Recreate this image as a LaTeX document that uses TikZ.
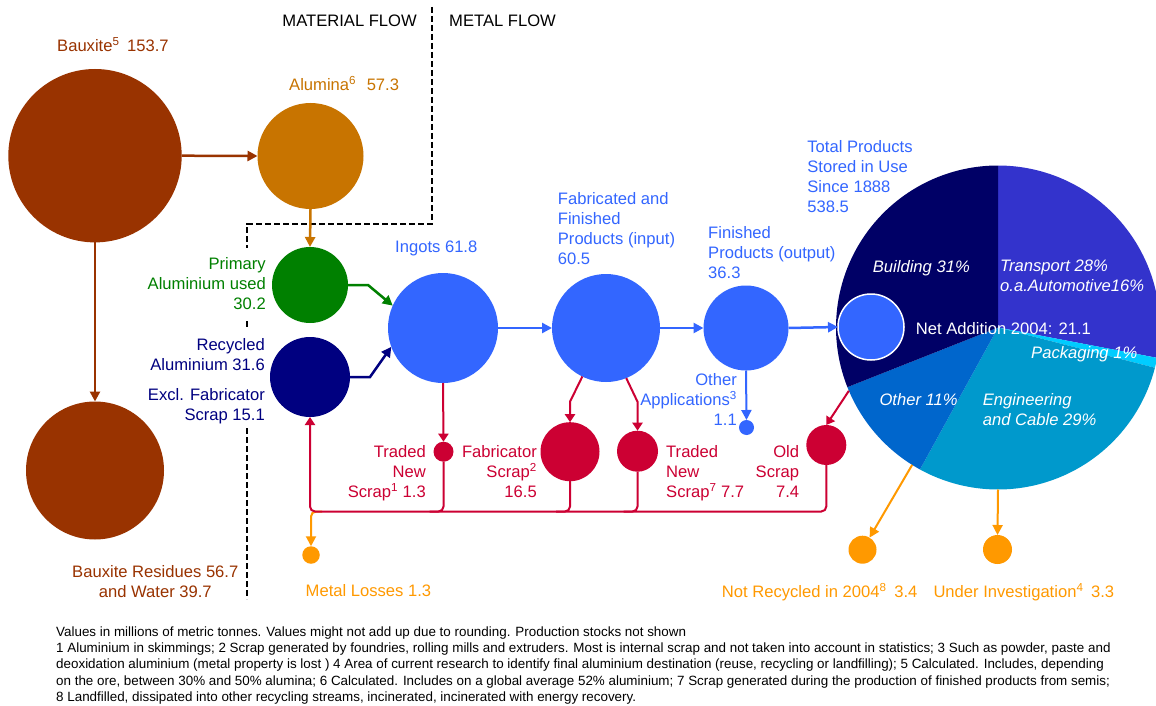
\documentclass[tikz,border=0pt]{standalone}
\usepackage{fontspec}
\setmainfont{Liberation Sans}
\usetikzlibrary{arrows.meta}

\definecolor{bauxite}{HTML}{993300}
\definecolor{alumina}{HTML}{C87400}
\definecolor{primgreen}{HTML}{008000}
\definecolor{recnavy}{HTML}{000080}
\definecolor{metalblue}{HTML}{3366FF}
\definecolor{scrapred}{HTML}{CC0033}
\definecolor{lossorange}{HTML}{FF9900}
\definecolor{building}{HTML}{000066}
\definecolor{transport}{HTML}{3333CC}
\definecolor{packaging}{HTML}{00CCFF}
\definecolor{engineering}{HTML}{0099CC}
\definecolor{otheruse}{HTML}{0066CC}

\begin{document}
\begin{tikzpicture}[x=1pt,y=-1pt,
  txt/.style={inner sep=0pt, font=\fontsize{16.6}{20}\selectfont},
  pietxt/.style={txt, text=white, font=\fontsize{16.6}{20}\selectfont\itshape, align=left, anchor=north west},
  blob/.style={circle, inner sep=0pt, outer sep=0pt, draw=none},
  flowarrow/.style={line width=2.5pt, -{Triangle[length=10pt,width=10pt]}},
  scrapline/.style={line width=2pt, draw=scrapred},
  scraparrow/.style={scrapline, -{Triangle[length=8pt,width=10pt]}},
  lossarrow/.style={line width=2pt, draw=lossorange, -{Triangle[length=10pt,width=10pt]}},
  divider/.style={line width=1.8pt, dash pattern=on 6pt off 3pt}
]
% page
\clip (0,0) rectangle (1156,706);
\fill[white] (0,0) rectangle (1156,706);

% material / metal divider, broken where the side labels stand
\coordinate (divtop) at (431.7,7);
\coordinate (divknee) at (431.7,224);
\coordinate (divcorner) at (247,224);
\draw[divider] (divtop) -- (divknee) -- (divcorner) -- (247,248);
\draw[divider] (247,321) -- (247,329);
\draw[divider] (247,428) -- (247,599);
\node[txt, anchor=north east] (matflow) at (417,14.7) {MATERIAL FLOW};
\node[txt, anchor=north west] (metflow) at (449,14.7) {METAL FLOW};

% material side
\node[blob, fill=bauxite, minimum size=173.4pt] (baux) at (95,155.7) {};
\node[blob, fill=alumina, minimum size=106pt] (alu) at (310.5,156) {};
\node[blob, fill=bauxite, minimum size=138pt] (res) at (95,470.5) {};
\node[txt, text=bauxite, anchor=north west] (bauxlbl) at (57,37) {Bauxite\textsuperscript{5}\hspace{3pt} 153.7};
\node[txt, text=alumina, anchor=north west] (alulbl) at (289,75.7) {Alumina\textsuperscript{6}\hspace{6pt} 57.3};
\node[txt, text=bauxite, anchor=north, align=center] (reslbl) at (155.3,565.7) {Bauxite Residues 56.7\\and Water 39.7};

\draw[flowarrow, draw=bauxite] (baux.east) -- (alu.west);
\draw[flowarrow, draw=bauxite] (baux.south) -- (res.north);

% metal side
\node[blob, fill=primgreen, minimum size=76pt] (prim) at (310,285) {};
\node[blob, fill=recnavy, minimum size=80pt] (rec) at (310,377) {};
\node[blob, fill=metalblue, minimum size=110pt] (ingots) at (443,328) {};
\node[blob, fill=metalblue, minimum size=108pt] (fab) at (606,328) {};
\node[blob, fill=metalblue, minimum size=85pt] (fin) at (746,328) {};
\node[blob, fill=metalblue, minimum size=15pt] (oapp) at (746.5,427.5) {};

\node[txt, text=primgreen, anchor=north east, align=right] (primlbl) at (266,257) {Primary\\Aluminium used\\30.2};
\node[txt, text=recnavy, anchor=north east, align=right] (reclbl) at (265,338) {Recycled\\Aluminium 31.6};
\node[txt, text=recnavy, anchor=north east, align=right] (excllbl) at (265,388) {Excl. Fabricator\\Scrap 15.1};
\node[txt, text=metalblue, anchor=north west] (ingotslbl) at (395,240.7) {Ingots 61.8};
\node[txt, text=metalblue, anchor=north west, align=left] (fablbl) at (557.7,192.3) {Fabricated and\\Finished\\Products (input)\\60.5};
\node[txt, text=metalblue, anchor=north west, align=left] (finlbl) at (708,226.7) {Finished\\Products (output)\\36.3};
\node[txt, text=metalblue, anchor=north west, align=left] (totlbl) at (807.2,140) {Total Products\\Stored in Use\\Since 1888\\538.5};
\node[txt, text=metalblue, anchor=north east, align=right] (oapplbl) at (737,373.3) {Other\\Applications\textsuperscript{3}\\1.1};

\draw[flowarrow, draw=alumina] (alu.south) -- (prim.north);
\draw[flowarrow, draw=primgreen] (prim.east) -- ++(20,0) -- (ingots.156);
\draw[flowarrow, draw=recnavy] (rec.east) -- ++(20,0) -- (ingots.200);
\draw[flowarrow, draw=metalblue] (ingots.east) -- (fab.west);
\draw[flowarrow, draw=metalblue] (fab.east) -- (fin.west);
\draw[flowarrow, draw=metalblue, line width=2pt] (fin.south) -- (oapp.north);

% products in use
\begin{scope}[shift={(998,327.5)}, y=1pt]
  \fill[transport]   (0,0) -- (90:162)    arc[start angle=90,     end angle=-10.8,  radius=162] -- cycle;
  \fill[packaging]   (0,0) -- (-10.8:162) arc[start angle=-10.8,  end angle=-14.4,  radius=162] -- cycle;
  \fill[engineering] (0,0) -- (-14.4:162) arc[start angle=-14.4,  end angle=-118.8, radius=162] -- cycle;
  \fill[otheruse]    (0,0) -- (-118.8:162) arc[start angle=-118.8, end angle=-158.4, radius=162] -- cycle;
  \fill[building]    (0,0) -- (-158.4:162) arc[start angle=-158.4, end angle=-270,   radius=162] -- cycle;
\end{scope}
\node[blob, minimum size=324pt] (pie) at (998,327.5) {};
\node[blob, fill=metalblue, draw=white, line width=1.5pt, minimum size=66pt] (net) at (871,327) {};
\draw[flowarrow, draw=metalblue] (fin.east) -- (net.west);

\node[pietxt] (bldlbl) at (872.7,260) {Building 31\%};
\node[pietxt] (trnlbl) at (1000,260) {Transport 28\%\\o.a.Automotive16\%};
\node[txt, text=white, anchor=north west] (netlbl) at (915.7,322.3) {Net Addition 2004: 21.1};
\node[pietxt] (paklbl) at (1031,346.7) {Packaging 1\%};
\node[pietxt] (othlbl) at (879.3,393) {Other 11\%};
\node[pietxt] (englbl) at (982.7,393) {Engineering\\and Cable 29\%};

% scrap
\coordinate (bus) at (0,511.5);
\coordinate (fabkink) at (0,401.7);
\coordinate (lossfork) at (322,511.5);
\node[blob, fill=scrapred, minimum size=20pt] (tns1) at (443.5,451.7) {};
\node[blob, fill=scrapred, minimum size=59pt] (fscrap) at (570,451.7) {};
\node[blob, fill=scrapred, minimum size=41pt] (tns7) at (637.5,451.2) {};
\node[blob, fill=scrapred, minimum size=40pt] (old) at (826.3,445) {};
\node[blob, fill=lossorange, minimum size=17.5pt] (loss) at (311,555) {};
\node[blob, fill=lossorange, minimum size=28pt] (nrec) at (862.5,549.7) {};
\node[blob, fill=lossorange, minimum size=29pt] (uinv) at (997.5,549.5) {};

\node[txt, text=scrapred, anchor=north east, align=right] (tns1lbl) at (426,445.7) {Traded\\New\\Scrap\textsuperscript{1} 1.3};
\node[txt, text=scrapred, anchor=north east, align=right] (fscraplbl) at (537,445.7) {Fabricator\\Scrap\textsuperscript{2}\\16.5};
\node[txt, text=scrapred, anchor=north west, align=left] (tns7lbl) at (666,445.7) {Traded\\New\\Scrap\textsuperscript{7} 7.7};
\node[txt, text=scrapred, anchor=north east, align=right] (oldlbl) at (799.3,445.7) {Old\\Scrap\\7.4};
\node[txt, text=lossorange, anchor=north west] (losslbl) at (305.5,584) {Metal Losses 1.3};
\node[txt, text=lossorange, anchor=north west] (nreclbl) at (721.7,583.3) {Not Recycled in 2004\textsuperscript{8}\hspace{3pt} 3.4};
\node[txt, text=lossorange, anchor=north west] (uinvlbl) at (933.3,583.3) {Under Investigation\textsuperscript{4}\hspace{3pt} 3.3};

\draw[lossarrow, rounded corners=5pt] (lossfork) -| (loss.north);
\draw[scraparrow] (ingots.south) -- (tns1.north);
\draw[scraparrow] (fab.-116) -- (fscrap.north |- fabkink) -- (fscrap.north);
\draw[scraparrow] (fab.-68) -- (tns7.north |- fabkink) -- (tns7.north);
\draw[scraparrow] (pie.-157) -- (old.north);
\draw[scraparrow, rounded corners=5pt] (old.south) |- (rec.south |- bus) -- (rec.south);
\draw[scrapline, rounded corners=5pt] (tns1.south) |- ([xshift=-14pt]tns1.south |- bus);
\draw[scrapline, rounded corners=5pt] (fscrap.south) |- ([xshift=-14pt]fscrap.south |- bus);
\draw[scrapline, rounded corners=5pt] (tns7.south) |- ([xshift=-14pt]tns7.south |- bus);
\draw[lossarrow] (pie.-122) -- (nrec);
\draw[lossarrow] (pie.south) -- (uinv.north);

% notes
\node[inner sep=0pt, anchor=north west, align=left, font=\fontsize{13.4}{16.25}\selectfont] (notes) at (56,626.5) {%
Values in millions of metric tonnes. Values might not add up due to rounding. Production stocks not shown\\
1 Aluminium in skimmings; 2 Scrap generated by foundries, rolling mills and extruders. Most is internal scrap and not taken into account in statistics; 3 Such as powder, paste and\\
deoxidation aluminium (metal property is lost ) 4 Area of current research to identify final aluminium destination (reuse, recycling or landfilling); 5 Calculated. Includes, depending\\
on the ore, between 30\% and 50\% alumina; 6 Calculated. Includes on a global average 52\% aluminium; 7 Scrap generated during the production of finished products from semis;\\
8 Landfilled, dissipated into other recycling streams, incinerated, incinerated with energy recovery.};
\end{tikzpicture}
\end{document}
